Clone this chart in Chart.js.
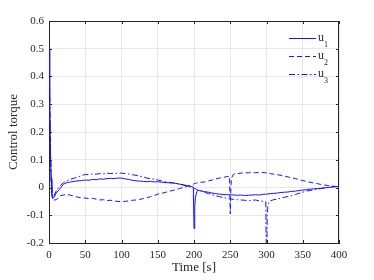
<!DOCTYPE html>
<html>
<head>
<meta charset="utf-8">
<script src="https://cdn.jsdelivr.net/npm/chart.js@4.4.0/dist/chart.umd.min.js"></script>
<style>
  body { margin: 0; background: #fff; }
  canvas { display: block; }
</style>
</head>
<body>
<canvas id="torqueChart" width="374" height="280"></canvas>
<script>
// time samples [s]
const time = [0, 1, 2, 3, 4,
  5, 7, 10,
  15, 20, 25, 30, 35, 40, 45, 50, 55, 60,
  65, 70, 75, 80, 85, 90, 95, 100, 105, 110,
  115, 120, 125, 130, 135, 140, 145, 150, 155, 160,
  165, 170, 175, 180, 185, 190, 195,
  199, 200, 201, 202, 204,
  205, 210, 215, 220, 225, 230, 235, 240, 245,
  249, 250, 251, 252, 254,
  255, 260, 265, 270, 275, 280, 285, 290, 295,
  299, 300, 301, 302,
  305, 310, 315, 320, 325, 330, 335, 340, 345, 350,
  355, 360, 365, 370, 375, 380, 385, 390, 395, 400];

const u1 = [0.5, 0.31, 0.13, 0.03, -0.02,
  -0.04, -0.035, -0.02,
  -0.005, 0.012, 0.018, 0.02, 0.022, 0.024, 0.025, 0.027, 0.026, 0.029,
  0.028, 0.031, 0.03, 0.032, 0.033, 0.032, 0.034, 0.034, 0.031, 0.029,
  0.026, 0.024, 0.023, 0.022, 0.021, 0.022, 0.02, 0.021, 0.019, 0.018,
  0.017, 0.016, 0.015, 0.012, 0.01, 0.007, 0.004,
  0.002, -0.148, -0.07, -0.035, -0.015,
  -0.01, -0.012, -0.015, -0.017, -0.02, -0.022, -0.024, -0.025, -0.026,
  -0.026, -0.027, -0.027, -0.026, -0.027,
  -0.027, -0.028, -0.027, -0.029, -0.028, -0.027, -0.026, -0.027, -0.025,
  -0.024, -0.024, -0.023, -0.024,
  -0.022, -0.021, -0.02, -0.018, -0.017, -0.016, -0.014, -0.013, -0.011, -0.009,
  -0.008, -0.006, -0.005, -0.004, -0.003, -0.001, 0, 0.002, 0.003, 0.004];

const u2 = [0.5, 0.3, 0.12, 0.02, -0.03,
  -0.042, -0.045, -0.044,
  -0.03, -0.027, -0.025, -0.028, -0.032, -0.035, -0.037, -0.038, -0.04, -0.039,
  -0.042, -0.045, -0.044, -0.047, -0.046, -0.049, -0.05, -0.051, -0.05, -0.048,
  -0.046, -0.045, -0.043, -0.04, -0.037, -0.033, -0.029, -0.024, -0.021, -0.018,
  -0.014, -0.011, -0.008, -0.004, 0, 0.004, 0.008,
  0.012, 0.014, 0.015, 0.015, 0.016,
  0.017, 0.019, 0.02, 0.024, 0.027, 0.031, 0.034, 0.036, 0.039,
  0.041, -0.095, 0.01, 0.035, 0.046,
  0.049, 0.05, 0.052, 0.053, 0.053, 0.054, 0.053, 0.054, 0.054,
  0.053, 0.053, 0.054, 0.053,
  0.05, 0.048, 0.046, 0.044, 0.041, 0.038, 0.035, 0.032, 0.028, 0.025,
  0.022, 0.019, 0.016, 0.014, 0.011, 0.009, 0.007, 0.005, 0.004, 0.003];

const u3 = [0.5, 0.32, 0.14, 0.04, -0.01,
  -0.035, -0.03, -0.012,
  0.005, 0.018, 0.025, 0.03, 0.034, 0.038, 0.043, 0.047, 0.046, 0.049,
  0.048, 0.05, 0.049, 0.052, 0.05, 0.052, 0.051, 0.052, 0.05, 0.049,
  0.046, 0.044, 0.041, 0.038, 0.034, 0.032, 0.03, 0.027, 0.024, 0.021,
  0.019, 0.017, 0.015, 0.012, 0.009, 0.005, 0.002,
  0, -0.002, -0.004, -0.005, -0.007,
  -0.009, -0.014, -0.018, -0.022, -0.026, -0.03, -0.033, -0.036, -0.039,
  -0.041, -0.042, -0.041, -0.043, -0.042,
  -0.043, -0.044, -0.045, -0.046, -0.047, -0.046, -0.045, -0.048, -0.05,
  -0.051, -0.34, -0.1, -0.06,
  -0.048, -0.044, -0.042, -0.038, -0.035, -0.032, -0.029, -0.025, -0.021, -0.017,
  -0.013, -0.011, -0.008, -0.006, -0.004, -0.002, 0, 0.002, 0.003, 0.004];

const seriesNames = ['1', '2', '3'];   // subscripts of u
const xTicks = [0, 50, 100, 150, 200, 250, 300, 350, 400];
const yTicks = [-0.2, -0.1, 0, 0.1, 0.2, 0.3, 0.4, 0.5, 0.6];
const yTickLabels = ['-0.2', '-0.1', '0', '0.1', '0.2', '0.3', '0.4', '0.5', '0.6'];

const serif = "'Liberation Serif', 'Times New Roman', serif";
const ink = '#262626';
const blue = 'rgb(20,20,255)';

const dashes = [[], [5, 3], [6, 2.5, 1.5, 2.5]];

function pts(vals) {
  return time.map((t, i) => ({ x: t, y: vals[i] }));
}

// box + inward ticks (MATLAB style)
const framePlugin = {
  id: 'frame',
  afterDatasetsDraw(chart) {
    const { ctx, chartArea: a, scales } = chart;
    ctx.save();
    ctx.strokeStyle = ink;
    ctx.lineWidth = 1;
    ctx.beginPath();
    ctx.moveTo(a.left, a.top + 0.5);
    ctx.lineTo(a.right, a.top + 0.5);
    ctx.moveTo(a.right - 0.5, a.top);
    ctx.lineTo(a.right - 0.5, a.bottom);
    xTicks.forEach(v => {
      const px = Math.round(scales.x.getPixelForValue(v)) + 0.5;
      ctx.moveTo(px, a.bottom); ctx.lineTo(px, a.bottom - 3);
      ctx.moveTo(px, a.top); ctx.lineTo(px, a.top + 3);
    });
    yTicks.forEach(v => {
      const py = Math.round(scales.y.getPixelForValue(v)) + 0.5;
      ctx.moveTo(a.left, py); ctx.lineTo(a.left + 3, py);
      ctx.moveTo(a.right, py); ctx.lineTo(a.right - 3, py);
    });
    ctx.stroke();
    ctx.restore();
  }
};

// legend with subscripted labels, inside the top-right corner
const legendPlugin = {
  id: 'subLegend',
  afterDraw(chart) {
    const { ctx, chartArea: a } = chart;
    ctx.save();
    chart.data.datasets.forEach((ds, i) => {
      const y = Math.round(a.top + 16.5 + i * 18) + 0.5;
      ctx.strokeStyle = ds.borderColor;
      ctx.lineWidth = 1;
      ctx.setLineDash(ds.borderDash || []);
      ctx.beginPath();
      ctx.moveTo(a.right - 50, y);
      ctx.lineTo(a.right - 23, y);
      ctx.stroke();
      ctx.setLineDash([]);
      ctx.fillStyle = ink;
      ctx.textBaseline = 'alphabetic';
      ctx.font = '12px ' + serif;
      ctx.fillText('u', a.right - 21, y + 2.5);
      ctx.font = '8px ' + serif;
      ctx.fillText(seriesNames[i], a.right - 15, y + 8);
    });
    ctx.restore();
  }
};

new Chart(document.getElementById('torqueChart').getContext('2d'), {
  type: 'line',
  data: {
    datasets: [u1, u2, u3].map((vals, i) => ({
      label: 'u' + seriesNames[i],
      data: pts(vals),
      borderColor: blue,
      borderWidth: 1,
      borderDash: dashes[i],
      pointRadius: 0,
      tension: 0,
      fill: false
    }))
  },
  options: {
    responsive: false,
    animation: false,
    events: [],
    layout: { padding: { top: 21, right: 35, left: 0, bottom: 0 } },
    plugins: {
      legend: { display: false },
      tooltip: { enabled: false }
    },
    scales: {
      x: {
        type: 'linear',
        min: 0,
        max: 400,
        afterBuildTicks: s => { s.ticks = xTicks.map(v => ({ value: v })); },
        afterFit: s => { s.height = 37; },
        ticks: { color: ink, font: { family: serif, size: 11 }, padding: 6, maxRotation: 0 },
        grid: { color: '#e8e8e8', drawTicks: false },
        border: { color: ink },
        title: {
          display: true,
          text: 'Time [s]',
          color: ink,
          font: { family: serif, size: 13 },
          padding: { top: 0, bottom: 5 }
        }
      },
      y: {
        type: 'linear',
        min: -0.2,
        max: 0.6,
        afterBuildTicks: s => { s.ticks = yTicks.map(v => ({ value: v })); },
        afterFit: s => { s.width = 49; },
        ticks: {
          color: ink,
          font: { family: serif, size: 11 },
          padding: 5,
          callback: (v, i) => yTickLabels[i]
        },
        grid: { color: '#e8e8e8', drawTicks: false },
        border: { color: ink },
        title: {
          display: true,
          text: 'Control torque',
          color: ink,
          font: { family: serif, size: 13 },
          padding: { top: 6, bottom: 0 }
        }
      }
    }
  },
  plugins: [framePlugin, legendPlugin]
});
</script>
</body>
</html>
